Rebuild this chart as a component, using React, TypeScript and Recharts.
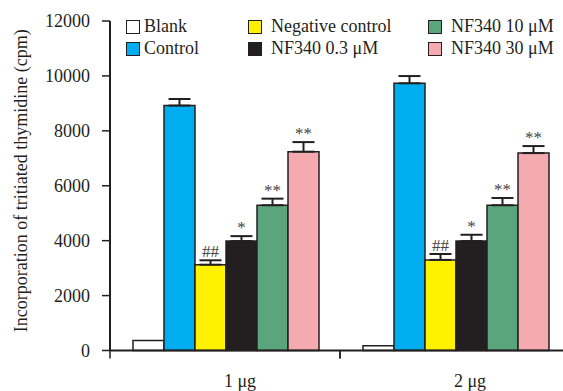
import React from 'react';
import { BarChart, Bar, XAxis, YAxis, ErrorBar, LabelList } from 'recharts';

const categories = ['1 \u03bcg', '2 \u03bcg'];
const seriesNames = ['Blank', 'Control', 'Negative control', 'NF340 0.3 \u03bcM', 'NF340 10 \u03bcM', 'NF340 30 \u03bcM'];
const seriesColors = ['#FFFFFF', '#00AEEF', '#FFF200', '#231F20', '#5AA57B', '#F5AAB0'];
const blank = [360, 175];
const control = [8920, 9730];
const negative = [3125, 3300];
const nf03 = [3985, 3985];
const nf10 = [5290, 5290];
const nf30 = [7240, 7190];
const blankErr = [0, 0];
const controlErr = [240, 265];
const negativeErr = [160, 215];
const nf03Err = [180, 230];
const nf10Err = [240, 265];
const nf30Err = [350, 255];
const annotations = ['', '', '##', '*', '**', '**'];
const yTicks = [0, 2000, 4000, 6000, 8000, 10000, 12000];
const yLabel = 'Incorporation of tritiated thymidine (cpm)';

const seriesValues = [blank, control, negative, nf03, nf10, nf30];
const seriesErrs = [blankErr, controlErr, negativeErr, nf03Err, nf10Err, nf30Err];

const data = categories.map((cat, i) => {
  const row: any = { cat };
  seriesValues.forEach((vals, s) => {
    row['s' + s] = vals[i];
    row['e' + s] = [0, seriesErrs[s][i]];
  });
  return row;
});

const FONT = "'Liberation Serif', 'Times New Roman', serif";
const INK = '#231F20';

const makeAnno = (text: string, values: number[], errs: number[]) => (props: any) => {
  const { x, y, width, height, index } = props;
  const v = values[index];
  if (!v) return null;
  const ppu = height / v;
  const capY = y - errs[index] * ppu;
  return (
    <text x={x + width / 2} y={capY - 3} textAnchor="middle" fontSize={17} fontFamily={FONT} fill="#444">
      {text}
    </text>
  );
};

const YLabel = (props: any) => {
  const vb = props.viewBox || { x: 0, y: 0, width: 0, height: 0 };
  const cx = vb.x + 27;
  const cy = vb.y + vb.height / 2 - 5;
  return (
    <text x={cx} y={cy} transform={`rotate(-90 ${cx} ${cy})`} textAnchor="middle" fontSize={18} fontFamily={FONT} fill={INK}>
      {yLabel}
    </text>
  );
};

const CatTick = (props: any) => {
  const { x, y, payload } = props;
  const off = payload && typeof payload.offset === 'number' ? payload.offset : 0;
  return (
    <g>
      <line x1={x - off} x2={x - off} y1={y} y2={y + 8} stroke={INK} strokeWidth={1.5} />
      <line x1={x + off} x2={x + off} y1={y} y2={y + 8} stroke={INK} strokeWidth={1.5} />
      <text x={x + 15} y={y + 36.5} textAnchor="middle" fontSize={18} fontFamily={FONT} fill={INK}>
        {payload.value}
      </text>
    </g>
  );
};

const legendCols = [126, 248, 428];
const legendRows = [19, 41];
const legendTextGap = [4, 9, 9];

export default function App() {
  return (
    <div style={{ position: 'absolute', left: 0, top: 0, width: 563, height: 391, overflow: 'hidden', background: '#fff' }}>
      <BarChart
        width={570}
        height={391}
        data={data}
        margin={{ top: 21, right: 0, bottom: 0, left: 0 }}
        barCategoryGap={23}
        barGap={0}
      >
        <YAxis
          width={110}
          domain={[0, 12000]}
          ticks={yTicks}
          interval={0}
          tickSize={8}
          tickMargin={12}
          axisLine={{ stroke: INK, strokeWidth: 2 }}
          tickLine={{ stroke: INK, strokeWidth: 1.5 }}
          tick={{ fontSize: 18, fontFamily: FONT, fill: INK }}
          label={<YLabel />}
        />
        <XAxis
          dataKey="cat"
          height={40.5}
          axisLine={{ stroke: INK, strokeWidth: 2 }}
          tickLine={false}
          tickSize={0}
          tickMargin={0}
          interval={0}
          tick={<CatTick />}
        />
        {seriesNames.map((name, s) => (
          <Bar key={name} dataKey={'s' + s} name={name} fill={seriesColors[s]} stroke={INK} strokeWidth={1.5} isAnimationActive={false}>
            {s > 0 && <ErrorBar dataKey={'e' + s} width={11} stroke={INK} strokeWidth={2} direction="y" />}
            {annotations[s] && <LabelList dataKey={'s' + s} content={makeAnno(annotations[s], seriesValues[s], seriesErrs[s])} />}
          </Bar>
        ))}
      </BarChart>
      {seriesNames.map((name, s) => {
        const col = Math.floor(s / 2);
        const row = s % 2;
        return (
          <div
            key={name}
            style={{
              position: 'absolute',
              left: legendCols[col],
              top: legendRows[row],
              height: 15,
              display: 'flex',
              alignItems: 'center',
              fontFamily: FONT,
              fontSize: 18,
              color: INK,
              whiteSpace: 'nowrap',
            }}
          >
            <span style={{ display: 'inline-block', width: 12, height: 12, background: seriesColors[s], border: `1.5px solid ${INK}`, marginRight: legendTextGap[col] }} />
            <span>{name}</span>
          </div>
        );
      })}
    </div>
  );
}
